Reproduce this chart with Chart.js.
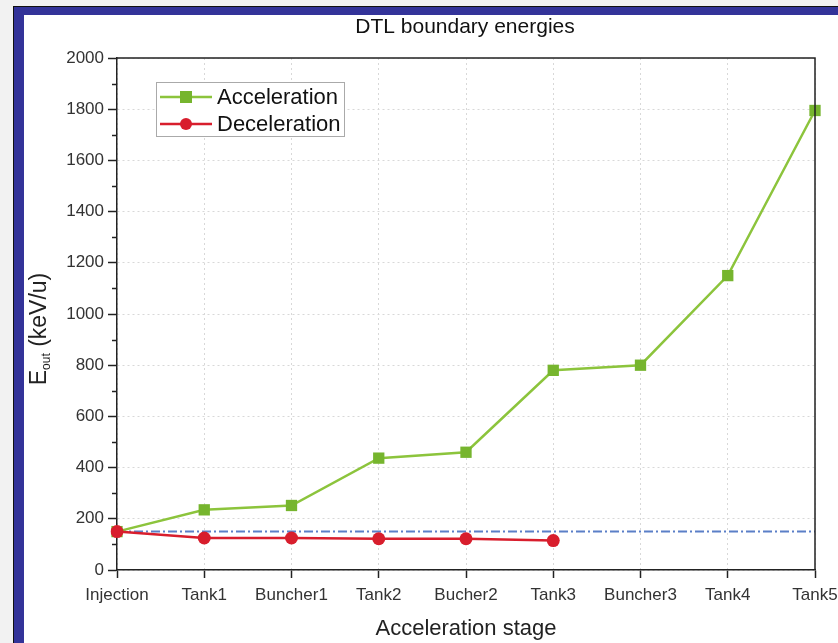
<!DOCTYPE html>
<html>
<head>
<meta charset="utf-8">
<script src="https://cdn.jsdelivr.net/npm/chart.js@4/dist/chart.umd.min.js"></script>
<style>
  body { margin: 0; background: #f2f2f2; overflow: hidden; width: 838px; height: 643px; position: relative; }
  #frame { position: absolute; left: 13px; top: 6px; width: 840px; height: 660px; background: #333399; border-left: 1px solid #111; border-top: 1px solid #111; }
  #panel { position: absolute; left: 24px; top: 15px; width: 814px; height: 628px; background: #fff; overflow: hidden; }
  #dtl { position: absolute; left: 0; top: 0; }
</style>
</head>
<body>
<div id="frame"></div>
<div id="panel"><canvas id="dtl" width="826" height="628"></canvas></div>
<script>
// Data
const stages = ['Injection', 'Tank1', 'Buncher1', 'Tank2', 'Bucher2', 'Tank3', 'Buncher3', 'Tank4', 'Tank5'];
const acceleration = [150, 235, 252, 437, 460, 780, 800, 1150, 1795];
const deceleration = [150, 125, 125, 122, 122, 115];
const injectionLevel = [150, 150, 150, 150, 150, 150, 150, 150, 150];
const yMax = 2000;
const yStep = 200;

const green = '#8cc43c';
const greenDark = '#76b52e';
const red = '#d81e2d';
const font = 'Arial, "Liberation Sans", sans-serif';

// Title, axis titles, legend box, frame and minor ticks
const decorations = {
  id: 'decorations',
  afterDraw(chart) {
    const ctx = chart.ctx;
    const a = chart.chartArea;
    const y = chart.scales.y;
    ctx.save();

    // box top & right
    ctx.strokeStyle = '#222';
    ctx.lineWidth = 1.5;
    ctx.beginPath();
    ctx.moveTo(a.left, a.top);
    ctx.lineTo(a.right, a.top);
    ctx.lineTo(a.right, a.bottom);
    ctx.stroke();

    // minor ticks on y
    for (let v = yStep / 2; v < yMax; v += yStep) {
      const py = Math.round(y.getPixelForValue(v)) + 0.5;
      ctx.beginPath();
      ctx.moveTo(a.left - 5, py);
      ctx.lineTo(a.left, py);
      ctx.stroke();
    }

    // chart title
    ctx.fillStyle = '#111';
    ctx.font = '21px ' + font;
    ctx.textAlign = 'center';
    ctx.textBaseline = 'middle';
    ctx.fillText('DTL boundary energies', 441, 12);

    // x title
    ctx.font = '22px ' + font;
    ctx.fillStyle = '#222';
    ctx.fillText('Acceleration stage', 442, 614);

    // y title with subscript
    ctx.translate(16, 314);
    ctx.rotate(-Math.PI / 2);
    ctx.textAlign = 'left';
    ctx.textBaseline = 'middle';
    const main = 'E';
    const sub = 'out';
    const rest = ' (keV/u)';
    ctx.font = '23px ' + font;
    const wE = ctx.measureText(main).width;
    const wR = ctx.measureText(rest).width;
    ctx.font = '12px ' + font;
    const wS = ctx.measureText(sub).width;
    const x0 = -(wE + wS + wR) / 2;
    ctx.font = '23px ' + font;
    ctx.fillText(main, x0, 0);
    ctx.font = '12px ' + font;
    ctx.fillText(sub, x0 + wE, 7);
    ctx.font = '23px ' + font;
    ctx.fillText(rest, x0 + wE + wS, 0);
    ctx.setTransform(1, 0, 0, 1, 0, 0);

    // legend
    const lx = 132, ly = 67, lw = 188, lh = 54;
    ctx.fillStyle = '#fff';
    ctx.fillRect(lx, ly, lw, lh);
    ctx.strokeStyle = '#aaa';
    ctx.lineWidth = 1;
    ctx.strokeRect(lx + 0.5, ly + 0.5, lw, lh);
    const rows = [
      { label: 'Acceleration', color: green, mark: 'rect', fill: greenDark },
      { label: 'Deceleration', color: red, mark: 'circle', fill: red }
    ];
    rows.forEach((r, i) => {
      const ry = ly + 15 + i * 27;
      ctx.strokeStyle = r.color;
      ctx.lineWidth = 2.5;
      ctx.beginPath();
      ctx.moveTo(lx + 4, ry);
      ctx.lineTo(lx + 56, ry);
      ctx.stroke();
      ctx.fillStyle = r.fill;
      if (r.mark === 'rect') {
        ctx.fillRect(lx + 24, ry - 6, 12, 12);
      } else {
        ctx.beginPath();
        ctx.arc(lx + 30, ry, 6, 0, Math.PI * 2);
        ctx.fill();
      }
      ctx.fillStyle = '#111';
      ctx.font = '22px ' + font;
      ctx.textAlign = 'left';
      ctx.fillText(r.label, lx + 61, ry + 1);
    });
    ctx.restore();
  }
};

new Chart(document.getElementById('dtl'), {
  type: 'line',
  data: {
    labels: stages,
    datasets: [
      {
        label: 'Injection level',
        data: injectionLevel,
        borderColor: '#5b7fc7',
        borderWidth: 2,
        borderDash: [9, 3, 2, 3],
        pointRadius: 0,
        fill: false,
        order: 3
      },
      {
        label: 'Deceleration',
        data: deceleration,
        borderColor: red,
        backgroundColor: red,
        borderWidth: 2.5,
        pointStyle: 'circle',
        pointRadius: 6.5,
        pointBorderWidth: 0,
        order: 1
      },
      {
        label: 'Acceleration',
        data: acceleration,
        borderColor: green,
        backgroundColor: greenDark,
        borderWidth: 2.5,
        pointStyle: 'rect',
        pointRadius: 8,
        pointBorderWidth: 0,
        order: 2
      }
    ]
  },
  options: {
    responsive: false,
    animation: false,
    devicePixelRatio: 1,
    layout: { padding: { left: 0, right: 35, top: 43, bottom: 0 } },
    plugins: {
      legend: { display: false },
      title: { display: false },
      tooltip: { enabled: false }
    },
    scales: {
      x: {
        offset: false,
        grid: {
          color: '#d8d8d8',
          lineWidth: 1,
          tickColor: '#222',
          tickLength: 8,
          tickWidth: 1.5,
          tickBorderDash: []
        },
        border: { color: '#222', width: 1.5, dash: [2, 3] },
        ticks: {
          color: '#333',
          font: { family: font, size: 17 },
          padding: 7,
          maxRotation: 0,
          autoSkip: false
        },
        afterFit(scale) { scale.height = 73; }
      },
      y: {
        min: 0,
        max: yMax,
        grid: {
          color: '#d8d8d8',
          lineWidth: 1,
          tickColor: '#222',
          tickLength: 9,
          tickWidth: 1.5,
          tickBorderDash: []
        },
        border: { color: '#222', width: 1.5, dash: [2, 3] },
        ticks: {
          stepSize: yStep,
          color: '#333',
          font: { family: font, size: 17 },
          padding: 4,
          callback: v => String(v)
        },
        afterFit(scale) { scale.width = 93; }
      }
    }
  },
  plugins: [decorations]
});
</script>
</body>
</html>
